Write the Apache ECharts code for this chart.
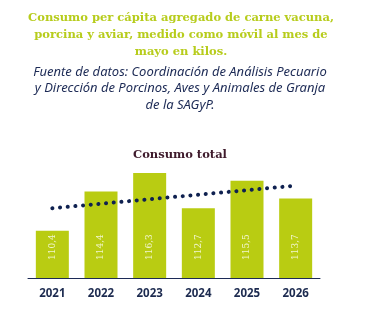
<!DOCTYPE html>
<html>
<head>
<meta charset="utf-8">
<script src="https://cdn.jsdelivr.net/npm/echarts@6/dist/echarts.min.js"></script>
<style>
  html, body { margin: 0; padding: 0; background: #ffffff; }
  #chart { width: 366px; height: 324px; }
</style>
</head>
<body>
<div id="chart"></div>
<script>
// datos
var years = ['2021', '2022', '2023', '2024', '2025', '2026'];
var consumo = [110.4, 114.4, 116.3, 112.7, 115.5, 113.7];
// tendencia (solo extremos)
var tendencia = [112.7, null, null, null, null, 115.0];

var titulo = 'Consumo per cápita agregado de carne vacuna,\nporcina y aviar, medido como móvil al mes de\nmayo en kilos.';
var fuente = 'Fuente de datos: Coordinación de Análisis Pecuario\ny Dirección de Porcinos, Aves y Animales de Granja\nde la SAGyP.';

var myChart = echarts.init(document.getElementById('chart'));

option = {
    backgroundColor: '#ffffff',
    animation: false,
    title: [
        {
            text: titulo,
            left: 176,
            top: 5,
            textAlign: 'center',
            textStyle: {
                fontFamily: 'DejaVu Serif',
                fontWeight: 'bold',
                fontSize: 11.5,
                lineHeight: 17,
                color: '#b7cc1c'
            }
        },
        {
            text: fuente,
            left: 175,
            top: 59,
            textAlign: 'center',
            textStyle: {
                fontFamily: 'Noto Sans',
                fontStyle: 'italic',
                fontWeight: 'normal',
                fontSize: 13,
                lineHeight: 16.5,
                color: '#1c2a55'
            }
        },
        {
            text: 'Consumo total',
            left: 175,
            top: 144,
            textAlign: 'center',
            textStyle: {
                fontFamily: 'DejaVu Serif',
                fontWeight: 'bold',
                fontSize: 11.5,
                color: '#3f1b2c'
            }
        }
    ],
    grid: {
        left: 28,
        right: 46,
        top: 166,
        bottom: 46
    },
    xAxis: {
        type: 'category',
        data: years,
        axisLine: { show: true, lineStyle: { color: '#1c2a55', width: 1 } },
        axisTick: { show: false },
        axisLabel: {
            margin: 10,
            fontFamily: 'Noto Sans',
            fontWeight: 'bold',
            fontSize: 11.5,
            color: '#1c2a4f'
        }
    },
    yAxis: {
        type: 'value',
        min: 105.6,
        max: 117,
        show: false,
        splitLine: { show: false }
    },
    series: [
        {
            name: 'Consumo total',
            type: 'bar',
            data: consumo,
            barWidth: 33,
            itemStyle: { color: '#b9cc12' },
            label: {
                show: true,
                position: 'insideBottom',
                rotate: 90,
                align: 'left',
                verticalAlign: 'middle',
                distance: 18,
                formatter: function (p) {
                    return p.value.toFixed(1).replace('.', ',');
                },
                fontFamily: 'DejaVu Serif',
                fontSize: 9,
                color: '#f2f6cf'
            }
        },
        {
            name: 'Tendencia',
            type: 'line',
            data: tendencia,
            connectNulls: true,
            symbol: 'none',
            z: 5,
            lineStyle: {
                color: '#0f2150',
                width: 4,
                type: [0.1, 7.6],
                cap: 'round'
            }
        }
    ]
};
myChart.setOption(option);
</script>
</body>
</html>
